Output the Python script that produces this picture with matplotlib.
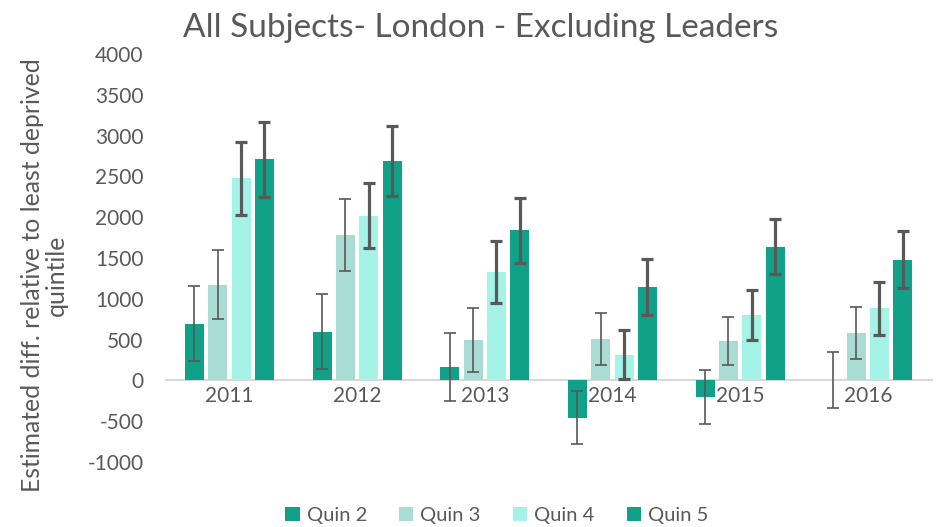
import matplotlib
matplotlib.use("Agg")
import matplotlib.pyplot as plt
import numpy as np

years = ["2011", "2012", "2013", "2014", "2015", "2016"]
series = ["Quin 2", "Quin 3", "Quin 4", "Quin 5"]
quin2 = [697, 595, 166, -455, -200, 0]
quin3 = [1175, 1783, 496, 510, 484, 582]
quin4 = [2480, 2020, 1330, 315, 800, 885]
quin5 = [2710, 2690, 1840, 1145, 1640, 1480]
err2 = [465, 460, 417, 330, 330, 343]
err3 = [425, 440, 390, 320, 295, 320]
err4 = [447, 400, 380, 300, 305, 325]
err5 = [460, 426, 400, 340, 335, 345]

colors = ["#11A088", "#A9DCD5", "#A5F3E7", "#11A088"]
err_lw = [1.2, 1.2, 2.3, 2.3]
txt = "#595959"

plt.rcParams['font.family'] = ['Lato', 'DejaVu Sans']
plt.rcParams['axes.unicode_minus'] = False

fig = plt.figure(figsize=(9.41, 5.27), dpi=100)
ax = fig.add_axes([0.176, 0.1233, 0.814, 0.7742])

x = np.arange(len(years))
pitch = 0.183
width = 0.149
vals = [quin2, quin3, quin4, quin5]
errs = [err2, err3, err4, err5]
for i, (v, e) in enumerate(zip(vals, errs)):
    pos = x + (i - 1.5) * pitch
    ax.bar(pos, v, width, color=colors[i], label=series[i], zorder=2)
    ax.errorbar(pos, v, yerr=e, fmt='none', ecolor=txt, elinewidth=err_lw[i],
                capsize=4.3, capthick=err_lw[i], zorder=3)

ax.set_xlim(-0.5, len(years) - 0.5)
ax.set_ylim(-1000, 4000)
ax.set_yticks(np.arange(-1000, 4001, 500))
ax.tick_params(axis='y', length=0, pad=16, labelsize=15, labelcolor=txt)
ax.set_xticks(x)
ax.set_xticklabels(years)
ax.tick_params(axis='x', length=0, pad=4, labelsize=15, labelcolor=txt)

for s in ['top', 'right', 'left']:
    ax.spines[s].set_visible(False)
ax.spines['bottom'].set_position(('data', 0))
ax.spines['bottom'].set_color('#D9D9D9')
ax.spines['bottom'].set_linewidth(1.5)
ax.spines['bottom'].set_zorder(1)

fig.text(0.047, 0.478, "Estimated diff. relative to least deprived\nquintile",
         rotation=90, ha='center', va='center', fontsize=17.8, color=txt,
         linespacing=1.05, multialignment='center')

fig.text(0.511, 0.947, "All Subjects- London - Excluding Leaders", ha='center',
         va='center', fontsize=24, color=txt)

leg = fig.legend(loc='center', bbox_to_anchor=(0.528, 0.022), ncol=4, frameon=False,
                 fontsize=14.5, handlelength=0.7, handleheight=0.7,
                 handletextpad=0.35, columnspacing=1.6)
for t in leg.get_texts():
    t.set_color(txt)

fig.savefig("out.png", dpi=100)
